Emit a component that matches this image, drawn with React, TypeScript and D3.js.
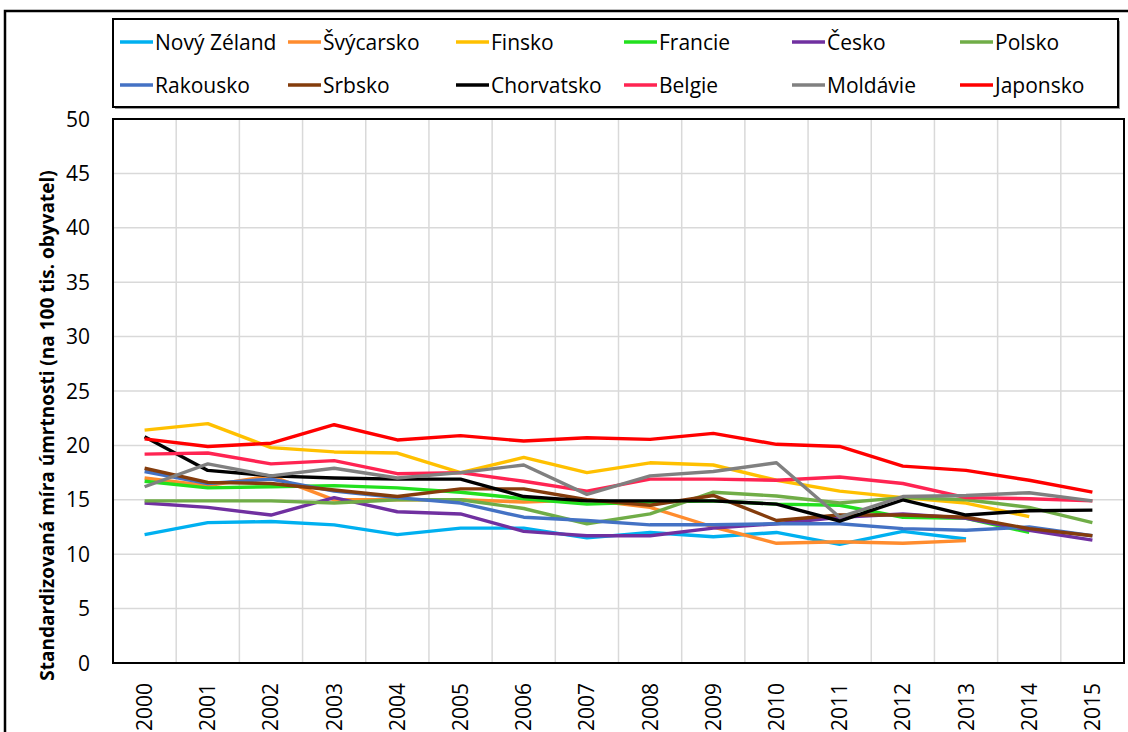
import React, { useEffect, useRef } from 'react';
import * as d3 from 'd3';

const years = ['2000', '2001', '2002', '2003', '2004', '2005', '2006', '2007', '2008', '2009', '2010', '2011', '2012', '2013', '2014', '2015'];
const yTicks = [0, 5, 10, 15, 20, 25, 30, 35, 40, 45, 50];

const countries = ['Nový Zéland', 'Švýcarsko', 'Finsko', 'Francie', 'Česko', 'Polsko', 'Rakousko', 'Srbsko', 'Chorvatsko', 'Belgie', 'Moldávie', 'Japonsko'];
const colors = ['#00B0F0', '#FF8C2E', '#FFC000', '#22E01E', '#7030A0', '#70AD47', '#4472C4', '#843C0C', '#000000', '#FF2452', '#808080', '#FF0000'];

// null = no data
const novyZeland = [11.8, 12.9, 13.0, 12.7, 11.8, 12.4, 12.4, 11.5, 12.0, 11.6, 12.0, 10.9, 12.1, 11.4, null, null];
const svycarsko = [17.0, 16.3, 17.2, 15.0, 15.0, 15.0, 14.8, 15.0, 14.3, 12.5, 11.0, 11.15, 11.0, 11.25, null, null];
const finsko = [21.4, 22.0, 19.8, 19.4, 19.3, 17.5, 18.9, 17.5, 18.4, 18.2, 16.8, 15.8, 15.2, 14.7, 13.45, null];
const francie = [16.7, 16.1, 16.2, 16.3, 16.1, 15.7, 15.1, 14.6, 14.8, 14.9, 14.6, 14.5, 13.4, 13.3, 12.0, null];
const cesko = [14.7, 14.3, 13.6, 15.2, 13.9, 13.7, 12.1, 11.7, 11.7, 12.4, 12.8, 13.4, 13.7, 13.3, 12.2, 11.3];
const polsko = [14.9, 14.9, 14.9, 14.7, 15.0, 15.0, 14.2, 12.8, 13.7, 15.7, 15.35, 14.7, 15.2, 15.0, 14.3, 12.9];
const rakousko = [17.6, 16.5, 16.9, 15.8, 15.2, 14.7, 13.4, 13.1, 12.7, 12.7, 12.8, 12.8, 12.35, 12.2, 12.5, 11.7];
const srbsko = [17.9, 16.6, 16.5, 15.9, 15.3, 16.0, 16.0, 15.0, 14.5, 15.4, 13.1, 13.6, 13.6, 13.4, 12.35, 11.7];
const chorvatsko = [20.8, 17.7, 17.2, 17.0, 16.9, 16.9, 15.3, 14.9, 14.9, 14.9, 14.6, 13.05, 15.0, 13.6, 14.0, 14.05];
const belgie = [19.2, 19.3, 18.3, 18.6, 17.4, 17.5, 16.7, 15.8, 16.9, 16.9, 16.8, 17.1, 16.5, 15.2, 15.1, 14.9];
const moldavie = [16.2, 18.3, 17.2, 17.9, 17.0, 17.5, 18.2, 15.5, 17.2, 17.6, 18.4, 13.4, 15.3, 15.4, 15.65, 14.9];
const japonsko = [20.6, 19.9, 20.2, 21.9, 20.5, 20.9, 20.4, 20.7, 20.55, 21.1, 20.1, 19.9, 18.1, 17.7, 16.8, 15.7];

const series = [novyZeland, svycarsko, finsko, francie, cesko, polsko, rakousko, srbsko, chorvatsko, belgie, moldavie, japonsko];

const FONT = '"Open Sans", "DejaVu Sans", sans-serif';

const App = () => {
  const ref = useRef<SVGSVGElement>(null);

  useEffect(() => {
    const svg = d3.select(ref.current);
    svg.selectAll('*').remove();

    const left = 113, right = 1124, top = 119, bottom = 663;

    const x = d3.scaleBand().domain(years).range([left, right]);
    const y = d3.scaleLinear().domain([0, 50]).range([bottom, top]);

    svg.append('rect').attr('width', 1128).attr('height', 732).attr('fill', '#fff');

    // outer chart border
    svg.append('rect')
      .attr('x', 5).attr('y', 11).attr('width', 1140).attr('height', 740)
      .attr('fill', 'none').attr('stroke', '#000').attr('stroke-width', 2.5);

    // grid
    const g = svg.append('g');
    g.selectAll('line.h').data(yTicks).enter().append('line')
      .attr('x1', left).attr('x2', right)
      .attr('y1', (d) => y(d)).attr('y2', (d) => y(d))
      .attr('stroke', '#d9d9d9').attr('stroke-width', 1.5);
    g.selectAll('line.v').data(years.slice(1)).enter().append('line')
      .attr('x1', (d) => x(d)!).attr('x2', (d) => x(d)!)
      .attr('y1', top).attr('y2', bottom)
      .attr('stroke', '#d9d9d9').attr('stroke-width', 1.5);

    // lines
    const line = d3.line<number | null>()
      .defined((d) => d !== null)
      .x((_, i) => x(years[i])! + x.bandwidth() / 2)
      .y((d) => y(d as number));

    series.forEach((s, i) => {
      svg.append('path')
        .datum(s)
        .attr('d', line)
        .attr('fill', 'none')
        .attr('stroke', colors[i])
        .attr('stroke-width', 3.4)
        .attr('stroke-linejoin', 'round');
    });

    // plot border
    svg.append('rect')
      .attr('x', left).attr('y', top).attr('width', right - left).attr('height', bottom - top)
      .attr('fill', 'none').attr('stroke', '#000').attr('stroke-width', 2);

    // y ticks
    svg.selectAll('text.yt').data(yTicks).enter().append('text')
      .attr('x', 90).attr('y', (d) => y(d) + 7.5)
      .attr('text-anchor', 'end')
      .style('font-family', FONT).style('font-size', '21px')
      .text((d) => d);

    // x ticks
    svg.selectAll('text.xt').data(years).enter().append('text')
      .attr('transform', (d) => `translate(${x(d)! + x.bandwidth() / 2 + 7.5},683) rotate(-90)`)
      .attr('text-anchor', 'end')
      .style('font-family', FONT).style('font-size', '21px')
      .text((d) => d);

    // y title
    svg.append('text')
      .attr('transform', `translate(54,${(148 + 703) / 2}) rotate(-90)`)
      .attr('text-anchor', 'middle')
      .style('font-family', FONT).style('font-size', '19px').style('font-weight', 'bold')
      .text('Standardizovaná míra úmrtnosti (na 100 tis. obyvatel)');

    // legend
    svg.append('rect')
      .attr('x', 115).attr('y', 21).attr('width', 1005).attr('height', 88)
      .attr('fill', '#999');
    svg.append('rect')
      .attr('x', 113).attr('y', 19).attr('width', 1005).attr('height', 88)
      .attr('fill', '#fff').attr('stroke', '#000').attr('stroke-width', 2);

    const lg = svg.selectAll('g.leg').data(countries).enter().append('g')
      .attr('transform', (_, i) => `translate(${120 + (i % 6) * 168},${i < 6 ? 42 : 85})`);
    lg.append('line')
      .attr('x1', 0).attr('x2', 33).attr('y1', 0).attr('y2', 0)
      .attr('stroke', (_, i) => colors[i]).attr('stroke-width', 3.5);
    lg.append('text')
      .attr('x', 35).attr('y', 7.5)
      .style('font-family', FONT).style('font-size', '21px')
      .text((d) => d);
  }, []);

  return (
    <svg
      ref={ref}
      width={1128}
      height={732}
      style={{ position: 'absolute', left: 0, top: 0, display: 'block' }}
    />
  );
};

export default App;
